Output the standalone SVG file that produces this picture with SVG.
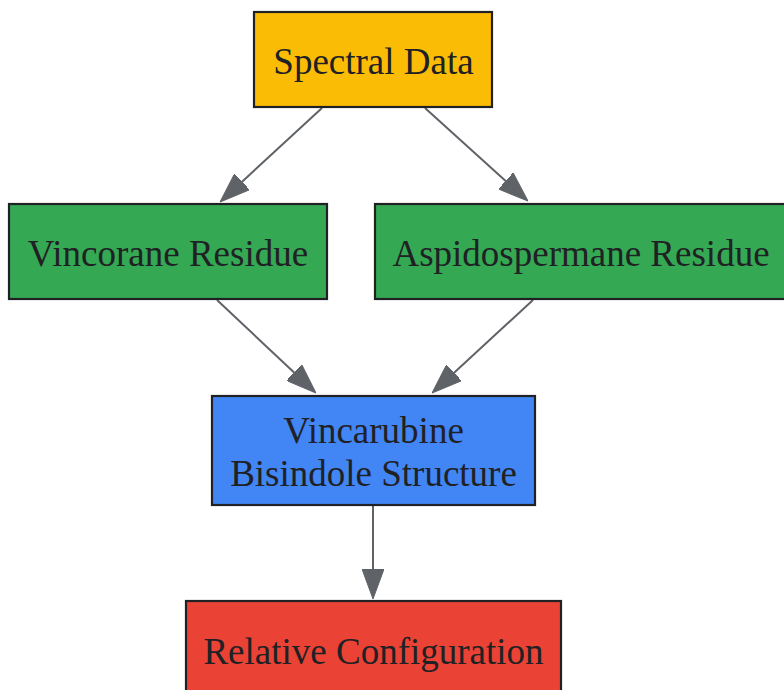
<svg xmlns="http://www.w3.org/2000/svg" width="784" height="690" viewBox="0 0 784 690">
  <style>
    .box { stroke: #202124; stroke-width: 2.2; }
    .lbl { font-family: "Liberation Serif", "Times New Roman", serif; font-size: 37px; fill: #202124; text-anchor: middle; }
    .edge { fill: none; stroke: #5f6368; stroke-width: 2; }
  </style>
  <defs>
    <marker id="arrow" viewBox="0 -11 30 22" refX="0" refY="0" markerWidth="30" markerHeight="22" markerUnits="userSpaceOnUse" orient="auto">
      <path d="M0,-11 L30,0 L0,11 z" fill="#5f6368" stroke="#5f6368" stroke-width="1"/>
    </marker>
  </defs>
  <rect width="784" height="690" fill="#ffffff"/>
  <g id="connectors">
    <path class="edge" d="M322,108 L242.1,181.7" marker-end="url(#arrow)"/>
    <path class="edge" d="M425,108 L505.7,180.9" marker-end="url(#arrow)"/>
    <path class="edge" d="M217,300 L294.1,372.5" marker-end="url(#arrow)"/>
    <path class="edge" d="M533,300 L454.1,372.7" marker-end="url(#arrow)"/>
    <path class="edge" d="M373,505 L373,569" marker-end="url(#arrow)"/>
  </g>
  <g id="spectral">
    <rect class="box" x="254" y="12" width="238" height="95" fill="#fbbc05"/>
    <text class="lbl" x="373.5" y="74">Spectral Data</text>
  </g>
  <g id="vincorane">
    <rect class="box" x="9" y="204" width="318" height="95" fill="#34a853"/>
    <text class="lbl" x="168" y="266">Vincorane Residue</text>
  </g>
  <g id="aspidospermane">
    <rect class="box" x="375" y="204" width="412" height="95" fill="#34a853"/>
    <text class="lbl" x="581" y="266">Aspidospermane Residue</text>
  </g>
  <g id="vincarubine">
    <rect class="box" x="212" y="396" width="323" height="109" fill="#4285f4"/>
    <text class="lbl" x="373.5" y="443">Vincarubine</text>
    <text class="lbl" x="373.5" y="486">Bisindole Structure</text>
  </g>
  <g id="relative">
    <rect class="box" x="186" y="601" width="375" height="100" fill="#ea4335"/>
    <text class="lbl" x="373.5" y="664">Relative Configuration</text>
  </g>
</svg>
